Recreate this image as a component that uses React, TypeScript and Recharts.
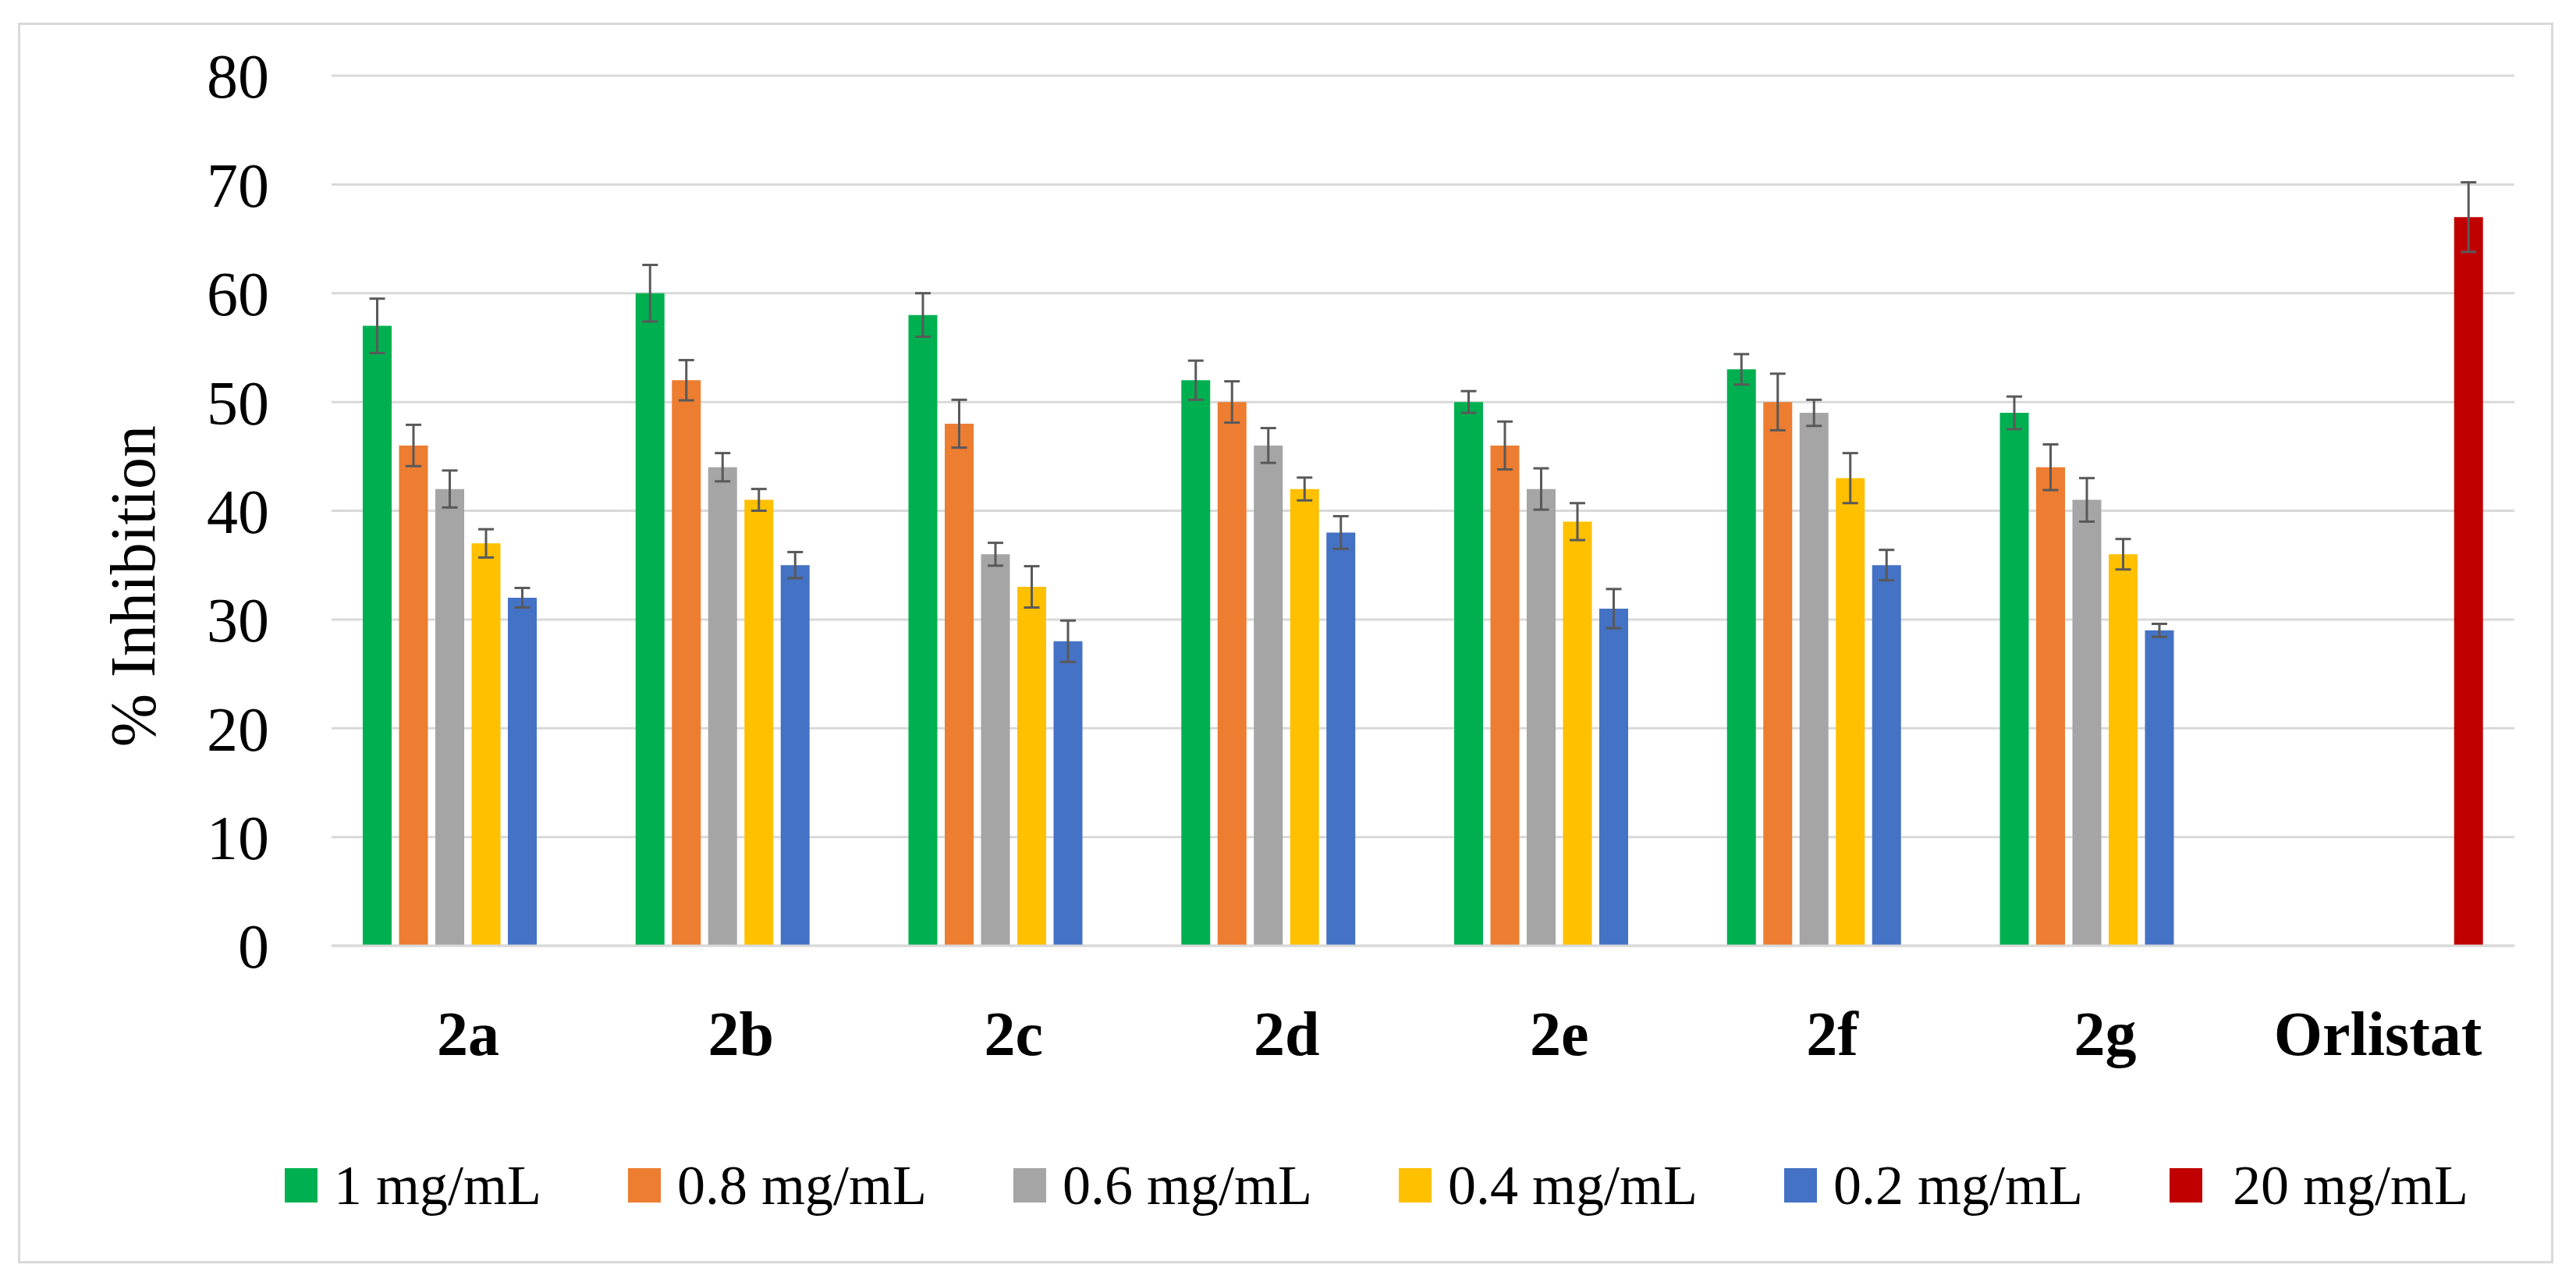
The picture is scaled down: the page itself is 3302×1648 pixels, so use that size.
import { Bar, BarChart, CartesianGrid, ErrorBar, Legend, XAxis, YAxis } from "recharts";

const FONT = '"Liberation Serif", "Times New Roman", serif';

const CATEGORIES = ["2a", "2b", "2c", "2d", "2e", "2f", "2g", "Orlistat"];
const Y_TICKS = [0, 10, 20, 30, 40, 50, 60, 70, 80];

// % inhibition per concentration, one entry per category
const C_1 = [57, 60, 58, 52, 50, 53, 49, null];
const C_08 = [46, 52, 48, 50, 46, 50, 44, null];
const C_06 = [42, 44, 36, 46, 42, 49, 41, null];
const C_04 = [37, 41, 33, 42, 39, 43, 36, null];
const C_02 = [32, 35, 28, 38, 31, 35, 29, null];
const C_20 = [null, null, null, null, null, null, null, 67];

// standard deviations
const E_1 = [2.5, 2.6, 2.0, 1.8, 1.0, 1.4, 1.5, null];
const E_08 = [1.9, 1.85, 2.2, 1.9, 2.2, 2.6, 2.1, null];
const E_06 = [1.7, 1.3, 1.05, 1.6, 1.9, 1.2, 2.0, null];
const E_04 = [1.3, 1.0, 1.9, 1.05, 1.7, 2.3, 1.4, null];
const E_02 = [0.9, 1.2, 1.9, 1.5, 1.8, 1.4, 0.6, null];
const E_20 = [null, null, null, null, null, null, null, 3.2];

const SERIES = [
  { key: "c1", name: "1 mg/mL", color: "#00B050", values: C_1, errors: E_1 },
  { key: "c08", name: "0.8 mg/mL", color: "#ED7D31", values: C_08, errors: E_08 },
  { key: "c06", name: "0.6 mg/mL", color: "#A5A5A5", values: C_06, errors: E_06 },
  { key: "c04", name: "0.4 mg/mL", color: "#FFC000", values: C_04, errors: E_04 },
  { key: "c02", name: "0.2 mg/mL", color: "#4472C4", values: C_02, errors: E_02 },
  { key: "c20", name: " 20 mg/mL", color: "#C00000", values: C_20, errors: E_20 },
];

const data = CATEGORIES.map((name, i) => {
  const row: Record<string, string | number | null> = { name };
  for (const s of SERIES) {
    row[s.key] = s.values[i];
    row[s.key + "Err"] = s.errors[i];
  }
  return row;
});

function AxisTitle() {
  return (
    <text
      x={198}
      y={751}
      transform="rotate(-90, 198, 751)"
      textAnchor="middle"
      fontFamily={FONT}
      fontSize={82}
      fill="#000"
    >
      % Inhibition
    </text>
  );
}

const seriesIndex = (entry: any) => SERIES.findIndex((s) => s.key === entry.dataKey);

function LegendContent({ payload }: any) {
  if (!payload) return null;
  const items = [...payload].sort((a, b) => seriesIndex(a) - seriesIndex(b));
  return (
    <div
      style={{
        display: "flex",
        alignItems: "center",
        gap: 111,
        fontFamily: FONT,
        fontSize: 72,
        lineHeight: "84px",
        color: "#000",
        whiteSpace: "pre",
      }}
    >
      {items.map((entry: any) => (
        <div key={entry.value} style={{ display: "flex", alignItems: "center" }}>
          <span
            style={{
              display: "inline-block",
              width: 42,
              height: 44,
              background: entry.color,
              marginRight: 21,
            }}
          />
          <span>{entry.value}</span>
        </div>
      ))}
    </div>
  );
}

export default function App() {
  return (
    <div
      style={{
        position: "absolute",
        left: 0,
        top: 0,
        width: 3302,
        height: 1648,
        background: "#fff",
      }}
    >
      <div
        style={{
          position: "absolute",
          left: 23,
          top: 29,
          width: 3250,
          height: 1590,
          border: "3px solid #D9D9D9",
          boxSizing: "border-box",
        }}
      />
      <div style={{ position: "absolute", left: 0, top: 0 }}>
        <BarChart
          width={3302}
          height={1648}
          data={data}
          margin={{ top: 97, right: 79, bottom: 286, left: 0 }}
          barGap={9.5}
        >
          <CartesianGrid vertical={false} stroke="#D9D9D9" strokeWidth={3} />
          <XAxis
            dataKey="name"
            height={150}
            tickSize={0}
            tickMargin={83}
            tickLine={false}
            axisLine={{ stroke: "#D9D9D9", strokeWidth: 3 }}
            tick={{ fontFamily: FONT, fontSize: 80, fontWeight: "bold", fill: "#000" }}
            interval={0}
          />
          <YAxis
            width={425}
            domain={[0, 80]}
            ticks={Y_TICKS}
            tickSize={0}
            tickMargin={80}
            tickLine={false}
            axisLine={false}
            tick={{ fontFamily: FONT, fontSize: 80, fill: "#000" }}
            label={AxisTitle}
          />
          <Legend
            layout="horizontal"
            verticalAlign="middle"
            align="center"
            content={LegendContent}
            wrapperStyle={{ left: 365, top: 1477, width: 2900 }}
          />
          {SERIES.map((s) => (
            <Bar
              key={s.key}
              dataKey={s.key}
              name={s.name}
              fill={s.color}
              barSize={37}
              isAnimationActive={false}
            >
              <ErrorBar
                dataKey={s.key + "Err"}
                width={10}
                stroke="#595959"
                strokeWidth={3}
                isAnimationActive={false}
              />
            </Bar>
          ))}
        </BarChart>
      </div>
    </div>
  );
}
